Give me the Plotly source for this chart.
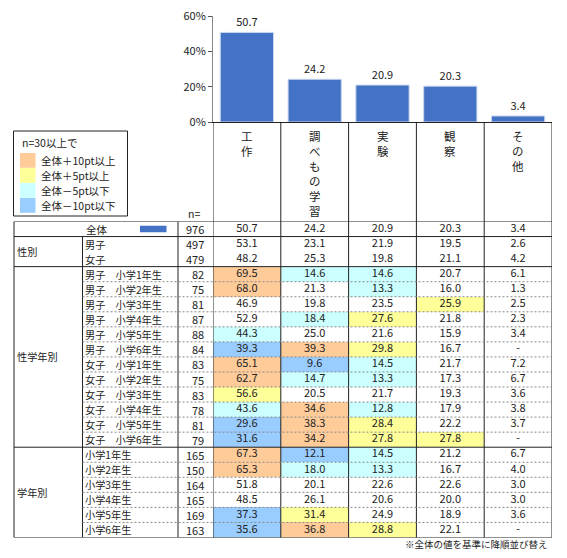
import plotly.graph_objects as go

# reference canvas is 567x558; the page body adds an 8px margin on each side
REF_W, REF_H = 567, 558
OFF = 8
W, H = REF_W - 2 * OFF, REF_H - 2 * OFF

categories = ["工作", "調べもの学習", "実験", "観察", "その他"]

row_labels = [
    "全体",
    "男子", "女子",
    "男子　小学1年生", "男子　小学2年生", "男子　小学3年生", "男子　小学4年生",
    "男子　小学5年生", "男子　小学6年生",
    "女子　小学1年生", "女子　小学2年生", "女子　小学3年生", "女子　小学4年生",
    "女子　小学5年生", "女子　小学6年生",
    "小学1年生", "小学2年生", "小学3年生", "小学4年生", "小学5年生", "小学6年生",
]

group_labels = ["性別", "性学年別", "学年別"]
group_rows = [(1, 2), (3, 14), (15, 20)]

n_values = [976, 497, 479, 82, 75, 81, 87, 88, 84, 83, 75, 83, 78, 81, 79,
            165, 150, 164, 165, 169, 163]

values = [
    [50.7, 24.2, 20.9, 20.3, 3.4],
    [53.1, 23.1, 21.9, 19.5, 2.6],
    [48.2, 25.3, 19.8, 21.1, 4.2],
    [69.5, 14.6, 14.6, 20.7, 6.1],
    [68.0, 21.3, 13.3, 16.0, 1.3],
    [46.9, 19.8, 23.5, 25.9, 2.5],
    [52.9, 18.4, 27.6, 21.8, 2.3],
    [44.3, 25.0, 21.6, 15.9, 3.4],
    [39.3, 39.3, 29.8, 16.7, None],
    [65.1, 9.6, 14.5, 21.7, 7.2],
    [62.7, 14.7, 13.3, 17.3, 6.7],
    [56.6, 20.5, 21.7, 19.3, 3.6],
    [43.6, 34.6, 12.8, 17.9, 3.8],
    [29.6, 38.3, 28.4, 22.2, 3.7],
    [31.6, 34.2, 27.8, 27.8, None],
    [67.3, 12.1, 14.5, 21.2, 6.7],
    [65.3, 18.0, 13.3, 16.7, 4.0],
    [51.8, 20.1, 22.6, 22.6, 3.0],
    [48.5, 26.1, 20.6, 20.0, 3.0],
    [37.3, 31.4, 24.9, 18.9, 3.6],
    [35.6, 36.8, 28.8, 22.1, None],
]

y_ticks = [0, 20, 40, 60]
y_tick_labels = ["0%", "20%", "40%", "60%"]

legend_labels = ["全体＋10pt以上", "全体＋5pt以上", "全体－5pt以下", "全体－10pt以下"]
legend_title = "n=30以上で"
footnote = "※全体の値を基準に降順並び替え"

# ---------- styling / layout constants (reference pixels) ----------
FONT = "Noto Sans CJK JP"
TXT = "#222222"
BAR = "#4472C4"
C_ORANGE, C_YELLOW, C_CYAN, C_BLUE = "#FFCC99", "#FFFF99", "#CCFFFF", "#99CCFF"
hl_colors = [C_ORANGE, C_YELLOW, C_CYAN, C_BLUE]

X_L, X_R = 213, 552          # data columns area
TBL_L = 14                   # table left
SUB_X = 82.5                 # sub label divider
N_X = 178                    # n column divider
TOP_T, TOP_B = 221.5, 537.5  # table top / bottom
BAR_T, BAR_B = 16, 122       # bar plot area


def px(x):
    return (x - OFF) / W


def py(y):
    return 1 - (y - OFF) / H


# ---------- colour codes per cell ----------
overall = values[0]
zcodes = []
for r, row in enumerate(values):
    zr = []
    for c, v in enumerate(row):
        code = 0
        if r > 0 and v is not None and n_values[r] >= 30:
            d = v - overall[c]
            if d >= 10 - 1e-9:
                code = 1
            elif d >= 5 - 1e-9:
                code = 2
            elif d <= -10 + 1e-9:
                code = 4
            elif d <= -5 + 1e-9:
                code = 3
        zr.append(code)
    zcodes.append(zr)

cs_cols = ["#FFFFFF"] + hl_colors
colorscale = []
for i, col in enumerate(cs_cols):
    colorscale.append([i / 5, col])
    colorscale.append([(i + 1) / 5, col])

fig = go.Figure()

idx = list(range(len(categories)))
fig.add_trace(go.Bar(
    x=idx, y=overall, xaxis="x", yaxis="y",
    marker=dict(color=BAR, line=dict(color="#C9D6EE", width=1)),
    text=[f"{v:.1f}" for v in overall], textposition="outside",
    textfont=dict(family=FONT, size=11, color=TXT),
    cliponaxis=False, width=0.785, hoverinfo="skip",
))

fig.add_trace(go.Heatmap(
    z=zcodes, x=idx, y=list(range(len(row_labels))),
    xaxis="x2", yaxis="y2", zmin=-0.5, zmax=4.5,
    colorscale=colorscale, showscale=False, hoverinfo="skip",
))

tx, ty, tt = [], [], []
for r, row in enumerate(values):
    for c, v in enumerate(row):
        tx.append(c)
        ty.append(r)
        tt.append("-" if v is None else f"{v:.1f}")
fig.add_trace(go.Scatter(
    x=tx, y=ty, text=tt, mode="text", xaxis="x2", yaxis="y2",
    textfont=dict(family=FONT, size=11, color=TXT), hoverinfo="skip",
))

shapes = []
annotations = []
NR = len(row_labels)

for k in range(len(categories) + 1):
    shapes.append(dict(type="line", xref="x2", yref="paper",
                       x0=k - 0.5, x1=k - 0.5, y0=py(TOP_B), y1=py(BAR_B),
                       line=dict(color="#222", width=1)))
shapes.append(dict(type="line", xref="paper", yref="y2", x0=px(TBL_L), x1=px(TBL_L),
                   y0=-0.5, y1=NR - 0.5, line=dict(color="#222", width=1)))
shapes.append(dict(type="line", xref="paper", yref="y2", x0=px(N_X), x1=px(N_X),
                   y0=-0.5, y1=NR - 0.5, line=dict(color="#222", width=1)))
shapes.append(dict(type="line", xref="paper", yref="y2", x0=px(SUB_X), x1=px(SUB_X),
                   y0=0.5, y1=NR - 0.5, line=dict(color="#222", width=1)))

for yb in [-0.5, 0.5, 2.5, 14.5, NR - 0.5]:
    shapes.append(dict(type="line", xref="paper", yref="y2", x0=px(TBL_L), x1=px(X_R),
                       y0=yb, y1=yb, line=dict(color="#222", width=1)))
for (a, b) in group_rows[1:]:
    for r in range(a, b):
        shapes.append(dict(type="line", xref="paper", yref="y2", x0=px(SUB_X), x1=px(X_R),
                           y0=r + 0.5, y1=r + 0.5,
                           line=dict(color="#888", width=1, dash="2px,2px")))


def ann(x, y, text, xanchor="left", yanchor="middle", size=11, xref="paper", yref="paper"):
    annotations.append(dict(xref=xref, yref=yref, x=x, y=y, xanchor=xanchor,
                            yanchor=yanchor, showarrow=False, text=text, borderpad=0,
                            font=dict(family=FONT, size=size, color=TXT)))


for c, cat in enumerate(categories):
    ann(c, py(127), "<br>".join(list(cat)), xanchor="center", yanchor="top",
        size=11.5, xref="x2")
ann(px(194), py(213), "n=", xanchor="center", size=10.5)

for r, lab in enumerate(row_labels):
    if r == 0:
        ann(px(97), r, lab, xanchor="center", yref="y2", size=10.5)
    else:
        ann(px(SUB_X + 1), r, lab, xanchor="left", yref="y2", size=10.2)
    ann(px(205), r, str(n_values[r]), xanchor="right", yref="y2")
for g, (a, b) in zip(group_labels, group_rows):
    ann(px(TBL_L + 1.5), (a + b) / 2, g, xanchor="left", yref="y2", size=10.2)

shapes.append(dict(type="rect", xref="paper", yref="y2", x0=px(140), x1=px(166.5),
                   y0=-0.22, y1=0.22, fillcolor=BAR, line=dict(width=0)))

shapes.append(dict(type="rect", xref="paper", yref="paper", x0=px(13.5), x1=px(127.5),
                   y0=py(216), y1=py(131), line=dict(color="#222", width=1),
                   fillcolor="rgba(0,0,0,0)"))
ann(px(21), py(142), legend_title, size=10.5)
for i, (lab, col) in enumerate(zip(legend_labels, hl_colors)):
    y0 = 153 + i * 15
    shapes.append(dict(type="rect", xref="paper", yref="paper", x0=px(20), x1=px(35.5),
                       y0=py(y0 + 14.8), y1=py(y0), fillcolor=col, line=dict(width=0)))
    ann(px(40), py(y0 + 7.5), lab, size=10.5)

ann(px(549), py(543.5), footnote, xanchor="right", size=9.5)

fig.update_layout(
    template="none",
    width=W, height=H, margin=dict(l=0, r=0, t=0, b=0, pad=0, autoexpand=False),
    paper_bgcolor="white", plot_bgcolor="rgba(0,0,0,0)",
    showlegend=False,
    xaxis=dict(domain=[px(X_L), px(X_R)], range=[-0.5, 4.5], showticklabels=False,
               showgrid=False, zeroline=False, showline=True, linecolor="#222",
               ticks="", anchor="y", fixedrange=True, automargin=False),
    yaxis=dict(domain=[py(BAR_B), py(BAR_T)], range=[0, 60], tickmode="array",
               tickvals=y_ticks, ticktext=y_tick_labels, ticklabeloverflow="allow",
               showgrid=False, zeroline=False, showline=True,
               linecolor="#888", ticks="outside", ticklen=4, tickcolor="#555",
               tickfont=dict(family=FONT, size=11, color=TXT), anchor="x",
               fixedrange=True, automargin=False),
    xaxis2=dict(domain=[px(X_L), px(X_R)], range=[-0.5, 4.5], visible=False, anchor="y2",
                automargin=False),
    yaxis2=dict(domain=[py(TOP_B), py(TOP_T)], range=[NR - 0.5, -0.5],
                visible=False, anchor="x2", automargin=False),
    shapes=shapes, annotations=annotations,
)

fig.write_html("out.html")
